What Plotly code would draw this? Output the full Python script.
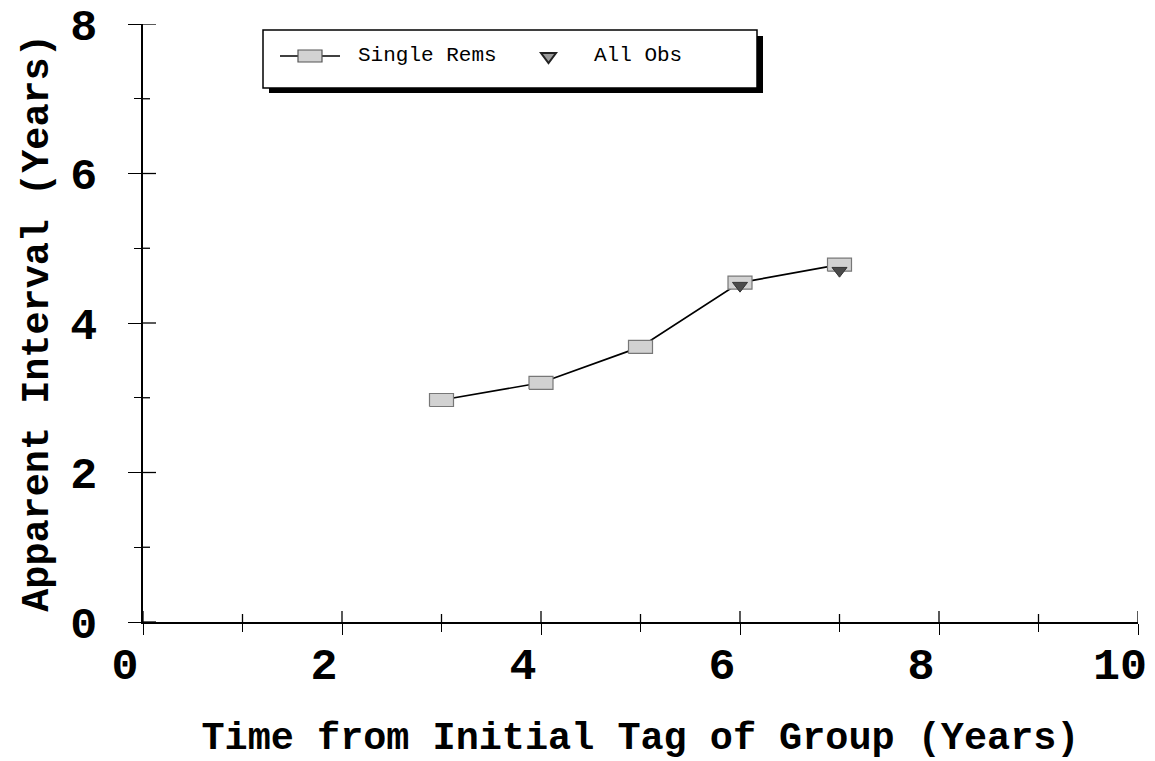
import plotly.graph_objects as go

# ---- data ----
years = [3, 4, 5, 6, 7]
single_rems = [2.97, 3.20, 3.68, 4.54, 4.78]
all_obs_years = [6, 7]
all_obs = [4.50, 4.70]

x_ticks = [0, 2, 4, 6, 8, 10]
x_minor = [1, 3, 5, 7, 9]
y_ticks = [0, 2, 4, 6, 8]
y_minor = [1, 3, 5, 7]

# ---- geometry ----
W, H = 1155, 761
L, R, T, B = 143, 17, 24, 139
PW, PH = W - L - R, H - T - B
XMAX, YMAX = 10, 8


def px(x):
    return (x - L) / PW


def py(y):
    return (H - B - y) / PH


# rectangle marker size in pixels -> data units
RW, RH = 24, 13
dx = RW / 2 * XMAX / PW
dy = RH / 2 * YMAX / PH

rect_x, rect_y = [], []
for xv, yv in zip(years, single_rems):
    rect_x += [xv - dx, xv + dx, xv + dx, xv - dx, xv - dx, None]
    rect_y += [yv - dy, yv - dy, yv + dy, yv + dy, yv - dy, None]

MONO = "Liberation Mono"

fig = go.Figure()
fig.add_trace(go.Scatter(x=years, y=single_rems, mode="lines",
                         line=dict(color="black", width=1.7),
                         showlegend=False, hoverinfo="skip"))
fig.add_trace(go.Scatter(x=rect_x, y=rect_y, mode="lines", fill="toself",
                         fillcolor="#d2d2d2", line=dict(color="#777777", width=1.2),
                         showlegend=False, name="Single Rems"))
fig.add_trace(go.Scatter(x=all_obs_years, y=all_obs, mode="markers",
                         marker=dict(symbol="triangle-down", size=13, color="#4a4a4a",
                                     line=dict(color="#333333", width=1)),
                         showlegend=False, name="All Obs"))

tickfont = dict(family=MONO, size=45, color="black", weight="bold")
titlefont = dict(family=MONO, size=38.5, color="black", weight="bold")

fig.update_layout(
    width=W, height=H,
    margin=dict(l=L, r=R, t=T, b=B, pad=0),
    paper_bgcolor="white", plot_bgcolor="white",
    showlegend=False,
    xaxis=dict(range=[0, XMAX], tickvals=x_ticks, ticktext=[str(v) for v in x_ticks],
               ticks="outside", ticklen=11, tickwidth=1.3, tickcolor="black",
               minor=dict(tickvals=x_minor, ticks="outside", ticklen=8, tickwidth=1.3,
                          tickcolor="black"),
               showline=True, linecolor="black", linewidth=1.6,
               showgrid=False, zeroline=False, automargin=False,
               tickfont=tickfont, ticklabelshift=-18, ticklabelstandoff=-10,
               title=dict(text="Time from Initial Tag of Group (Years)", font=titlefont, standoff=42)),
    yaxis=dict(range=[0, YMAX], tickvals=y_ticks, ticktext=[str(v) for v in y_ticks],
               ticks="outside", ticklen=13, tickwidth=1.3, tickcolor="black",
               minor=dict(tickvals=y_minor, ticks="outside", ticklen=7, tickwidth=1.3,
                          tickcolor="black"),
               showline=True, linecolor="black", linewidth=1.6,
               showgrid=False, zeroline=False, automargin=False,
               tickfont=tickfont, ticklabelstandoff=22,
               title=dict(text="Apparent Interval (Years)", font=titlefont, standoff=10)),
)

shapes = []
# inner half of the crossing ticks (pixel-length, anchored at the axis values)
for v in x_ticks:
    shapes.append(dict(type="line", xref="x", yref="y", x0=v, x1=v, ysizemode="pixel",
                       yanchor=0, y0=0, y1=11, line=dict(color="black", width=1.3)))
for v in x_minor:
    shapes.append(dict(type="line", xref="x", yref="y", x0=v, x1=v, ysizemode="pixel",
                       yanchor=0, y0=0, y1=8, line=dict(color="black", width=1.3)))
for v in y_ticks:
    shapes.append(dict(type="line", xref="x", yref="y", y0=v, y1=v, xsizemode="pixel",
                       xanchor=0, x0=0, x1=13, line=dict(color="black", width=1.3)))
for v in y_minor:
    shapes.append(dict(type="line", xref="x", yref="y", y0=v, y1=v, xsizemode="pixel",
                       xanchor=0, x0=0, x1=7, line=dict(color="black", width=1.3)))

# ---- hand-built legend box with drop shadow ----
shapes += [
    dict(type="rect", xref="paper", yref="paper", x0=px(269), x1=px(763), y0=py(93), y1=py(36),
         fillcolor="black", line=dict(width=0)),
    dict(type="rect", xref="paper", yref="paper", x0=px(263), x1=px(757), y0=py(88), y1=py(30),
         fillcolor="white", line=dict(color="black", width=1.5)),
    dict(type="line", xref="paper", yref="paper", x0=px(280), x1=px(340), y0=py(56), y1=py(56),
         line=dict(color="black", width=1.4)),
    dict(type="rect", xref="paper", yref="paper", x0=px(298), x1=px(322), y0=py(62), y1=py(50),
         fillcolor="#d2d2d2", line=dict(color="#555555", width=1.2)),
    dict(type="path", xref="paper", yref="paper",
         path=f"M {px(541)},{py(53)} L {px(556)},{py(53)} L {px(548.5)},{py(63)} Z",
         fillcolor="#9a9a9a", line=dict(color="#222222", width=2)),
]
fig.update_layout(shapes=shapes)

legfont = dict(family=MONO, size=21, color="black")
fig.add_annotation(xref="paper", yref="paper", x=px(356), y=py(56), text="Single Rems",
                   showarrow=False, xanchor="left", yanchor="middle", font=legfont)
fig.add_annotation(xref="paper", yref="paper", x=px(592), y=py(56), text="All Obs",
                   showarrow=False, xanchor="left", yanchor="middle", font=legfont)

fig.write_html("out.html")
